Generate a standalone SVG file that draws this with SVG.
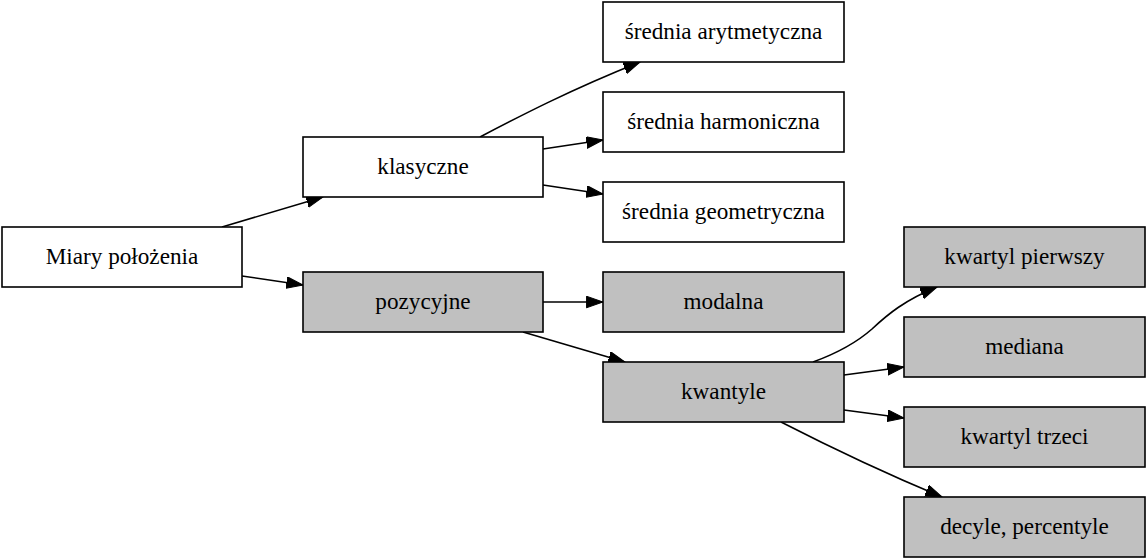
<svg xmlns="http://www.w3.org/2000/svg" width="1146" height="559" viewBox="0 0 1146 559">
<style>
.n rect{stroke:#000;stroke-width:1.6}
.w rect{fill:#fff}
.g rect{fill:#c0c0c0}
text{font-family:"Liberation Serif","Times New Roman",serif;font-size:23.2px;text-anchor:middle;fill:#000}
#edges path{fill:none;stroke:#000;stroke-width:1.6}
</style>
<defs>
<marker id="ah" markerUnits="userSpaceOnUse" markerWidth="18" markerHeight="13" refX="16.6" refY="5.8" orient="auto">
<path d="M0,0 L16.6,5.8 L0,11.6 z" fill="#000" stroke="#000" stroke-width="1"/>
</marker>
</defs>
<rect width="1146" height="559" fill="#fff"/>
<g id="edges">
<path d="M222,227 L323,197" marker-end="url(#ah)"/>
<path d="M242,276 L303,285" marker-end="url(#ah)"/>
<path d="M480,137 C520,116 570,90 640,62" marker-end="url(#ah)"/>
<path d="M543,149 L603,140" marker-end="url(#ah)"/>
<path d="M543,185 L603,194" marker-end="url(#ah)"/>
<path d="M543,302 L603,302" marker-end="url(#ah)"/>
<path d="M523,332 L625,362" marker-end="url(#ah)"/>
<path d="M813,362 C835,354 855,344 872,329 C888,314 905,300 937,287" marker-end="url(#ah)"/>
<path d="M844,375 L904,367" marker-end="url(#ah)"/>
<path d="M844,410 L904,418" marker-end="url(#ah)"/>
<path d="M781,422 C820,442 870,467 942,497" marker-end="url(#ah)"/>
</g>
<g id="miary" class="n w"><rect x="2" y="227" width="240" height="60"/><text x="122" y="264">Miary położenia</text></g>
<g id="klasyczne" class="n w"><rect x="303" y="137" width="240" height="60"/><text x="423" y="174">klasyczne</text></g>
<g id="pozycyjne" class="n g"><rect x="303" y="272" width="240" height="60"/><text x="423" y="309">pozycyjne</text></g>
<g id="arytmetyczna" class="n w"><rect x="603" y="2" width="241" height="60"/><text x="723.5" y="39">średnia arytmetyczna</text></g>
<g id="harmoniczna" class="n w"><rect x="603" y="92" width="241" height="60"/><text x="723.5" y="129">średnia harmoniczna</text></g>
<g id="geometryczna" class="n w"><rect x="603" y="182" width="241" height="60"/><text x="723.5" y="219">średnia geometryczna</text></g>
<g id="modalna" class="n g"><rect x="603" y="272" width="241" height="60"/><text x="723.5" y="309">modalna</text></g>
<g id="kwantyle" class="n g"><rect x="603" y="362" width="241" height="60"/><text x="723.5" y="399">kwantyle</text></g>
<g id="kwartyl1" class="n g"><rect x="904" y="227" width="241" height="60"/><text x="1024.5" y="264">kwartyl pierwszy</text></g>
<g id="mediana" class="n g"><rect x="904" y="317" width="241" height="60"/><text x="1024.5" y="354">mediana</text></g>
<g id="kwartyl3" class="n g"><rect x="904" y="407" width="241" height="60"/><text x="1024.5" y="444">kwartyl trzeci</text></g>
<g id="decyle" class="n g"><rect x="904" y="497" width="241" height="60"/><text x="1024.5" y="534">decyle, percentyle</text></g>
</svg>
